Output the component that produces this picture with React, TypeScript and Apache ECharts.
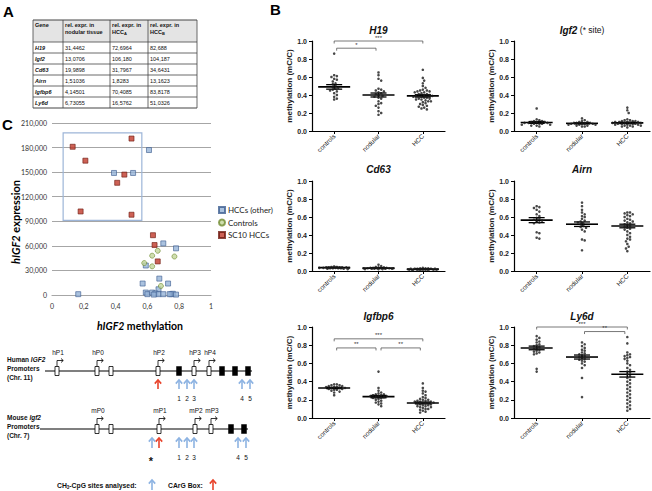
import React, { useEffect, useRef } from 'react';
import * as echarts from 'echarts';

// ---------- Panel A table ----------
const TABLE_GENES = ['H19', 'Igf2', 'Cd63', 'Airn', 'Igfbp6', 'Ly6d'];
const TABLE_NODULAR = ['31,4462', '13,0706', '19,9898', '1,51036', '4,14501', '6,73055'];
const TABLE_HCC_A = ['72,6964', '106,180', '31,7967', '1,8283', '70,4085', '16,5762'];
const TABLE_HCC_B = ['82,688', '104,187', '34,6431', '13,1623', '83,8178', '51,0326'];

// ---------- Panel C scatter ----------
const C_X_TICKS = [0, 0.2, 0.4, 0.6, 0.8, 1];
const C_HCC_OTHER: number[][] = [
  [0.39, 149000], [0.51, 149000], [0.61, 177000], [0.70, 63000], [0.78, 57000], [0.59, 36000],
  [0.675, 20000], [0.57, 14000], [0.73, 14000], [0.67, 7000], [0.165, 1000], [0.59, 3000],
  [0.60, 1000], [0.63, 3000], [0.65, 2000], [0.67, 1000], [0.70, 1000], [0.75, 1000],
  [0.76, 1500], [0.78, 500], [0.74, 1000], [0.64, 500],
];
const C_CONTROLS: number[][] = [
  [0.58, 39000], [0.63, 48000], [0.665, 54000], [0.77, 47000], [0.63, 35000], [0.685, 11000],
];
const C_SC10: number[][] = [
  [0.13, 181000], [0.21, 164000], [0.18, 102000], [0.41, 137000], [0.455, 147000],
  [0.50, 191000], [0.50, 98000], [0.635, 73000], [0.645, 61000], [0.665, 41000],
];
const C_BOX = [[0.07, 198000], [0.565, 91000]];

// ---------- Panel B ----------
const CATEGORIES = ['controls', 'nodular', 'HCC'];

const H19_CTRL = [0.86, 0.62, 0.61, 0.60, 0.58, 0.57, 0.55, 0.53, 0.52, 0.50, 0.49, 0.48, 0.47, 0.46, 0.45, 0.44, 0.42, 0.40, 0.38, 0.36, 0.35];
const H19_NOD = [0.65, 0.62, 0.58, 0.56, 0.47, 0.46, 0.45, 0.44, 0.43, 0.42, 0.41, 0.40, 0.39, 0.38, 0.37, 0.36, 0.33, 0.31, 0.30, 0.28, 0.26, 0.22, 0.20, 0.18];
const H19_HCC = [0.68, 0.59, 0.56, 0.53, 0.50, 0.48, 0.46, 0.45, 0.45, 0.44, 0.44, 0.43, 0.43, 0.42, 0.41, 0.41, 0.40, 0.40, 0.39, 0.39, 0.38, 0.38, 0.37, 0.37, 0.36, 0.36, 0.35, 0.35, 0.34, 0.33, 0.33, 0.32, 0.31, 0.30, 0.29, 0.28, 0.27, 0.26, 0.25, 0.24];
const H19_MEAN = [0.49, 0.40, 0.39];
const H19_SEM = [0.025, 0.022, 0.013];

const IGF2_CTRL = [0.25, 0.13, 0.12, 0.11, 0.11, 0.10, 0.10, 0.10, 0.09, 0.09, 0.09, 0.08, 0.08, 0.08, 0.07, 0.07, 0.06, 0.06, 0.05];
const IGF2_NOD = [0.14, 0.12, 0.11, 0.10, 0.10, 0.09, 0.09, 0.09, 0.08, 0.08, 0.08, 0.08, 0.07, 0.07, 0.07, 0.06, 0.06, 0.05, 0.05];
const IGF2_HCC = [0.26, 0.23, 0.20, 0.13, 0.12, 0.12, 0.11, 0.11, 0.11, 0.10, 0.10, 0.10, 0.10, 0.09, 0.09, 0.09, 0.09, 0.08, 0.08, 0.08, 0.08, 0.07, 0.07, 0.07, 0.06, 0.06, 0.06, 0.05, 0.05, 0.04];
const IGF2_MEAN = [0.095, 0.085, 0.09];
const IGF2_SEM = [0.01, 0.006, 0.008];

const CD63_CTRL = [0.05, 0.045, 0.045, 0.04, 0.04, 0.04, 0.04, 0.04, 0.035, 0.035, 0.035, 0.035, 0.03, 0.03, 0.03, 0.03, 0.025, 0.025, 0.02];
const CD63_NOD = [0.07, 0.055, 0.045, 0.04, 0.04, 0.035, 0.035, 0.035, 0.03, 0.03, 0.03, 0.03, 0.03, 0.03, 0.025, 0.025, 0.025, 0.025, 0.02, 0.02, 0.02];
const CD63_HCC = [0.035, 0.03, 0.03, 0.03, 0.025, 0.025, 0.025, 0.025, 0.025, 0.02, 0.02, 0.02, 0.02, 0.02, 0.02, 0.02, 0.02, 0.02, 0.015, 0.015, 0.015, 0.015, 0.015, 0.015, 0.01, 0.01, 0.01, 0.01];
const CD63_MEAN = [0.038, 0.032, 0.02];
const CD63_SEM = [0.003, 0.003, 0.002];

const AIRN_CTRL = [0.72, 0.71, 0.70, 0.68, 0.66, 0.63, 0.61, 0.59, 0.58, 0.57, 0.56, 0.55, 0.54, 0.53, 0.43, 0.42, 0.37, 0.36];
const AIRN_NOD = [0.76, 0.72, 0.68, 0.65, 0.63, 0.61, 0.60, 0.58, 0.56, 0.55, 0.54, 0.53, 0.52, 0.50, 0.49, 0.48, 0.46, 0.44, 0.35, 0.34, 0.23];
const AIRN_HCC = [0.65, 0.65, 0.64, 0.63, 0.62, 0.61, 0.60, 0.58, 0.57, 0.56, 0.55, 0.54, 0.53, 0.52, 0.51, 0.50, 0.49, 0.48, 0.47, 0.46, 0.44, 0.42, 0.40, 0.38, 0.36, 0.35, 0.33, 0.30, 0.27, 0.25, 0.22];
const AIRN_MEAN = [0.565, 0.52, 0.50];
const AIRN_SEM = [0.028, 0.025, 0.02];

const IGFBP6_CTRL = [0.37, 0.37, 0.36, 0.36, 0.35, 0.35, 0.34, 0.34, 0.34, 0.33, 0.33, 0.33, 0.32, 0.32, 0.31, 0.31, 0.30, 0.29, 0.28, 0.25];
const IGFBP6_NOD = [0.51, 0.33, 0.30, 0.28, 0.27, 0.26, 0.26, 0.25, 0.25, 0.24, 0.24, 0.24, 0.23, 0.23, 0.22, 0.22, 0.21, 0.20, 0.19, 0.18, 0.17, 0.16, 0.15, 0.13];
const IGFBP6_HCC = [0.38, 0.33, 0.30, 0.29, 0.27, 0.25, 0.23, 0.22, 0.21, 0.20, 0.20, 0.19, 0.19, 0.18, 0.18, 0.18, 0.17, 0.17, 0.17, 0.16, 0.16, 0.15, 0.15, 0.14, 0.14, 0.13, 0.13, 0.12, 0.12, 0.11, 0.10, 0.10, 0.09, 0.08, 0.07, 0.06];
const IGFBP6_MEAN = [0.33, 0.235, 0.165];
const IGFBP6_SEM = [0.007, 0.013, 0.01];

const LY6D_CTRL = [0.90, 0.88, 0.86, 0.84, 0.83, 0.81, 0.80, 0.79, 0.78, 0.77, 0.76, 0.75, 0.74, 0.73, 0.72, 0.71, 0.70, 0.54, 0.51];
const LY6D_NOD = [0.83, 0.81, 0.79, 0.77, 0.75, 0.74, 0.72, 0.71, 0.70, 0.69, 0.68, 0.67, 0.66, 0.65, 0.64, 0.63, 0.62, 0.60, 0.58, 0.55, 0.44, 0.23];
const LY6D_HCC = [0.89, 0.82, 0.72, 0.70, 0.69, 0.68, 0.67, 0.66, 0.65, 0.63, 0.60, 0.58, 0.55, 0.53, 0.51, 0.50, 0.48, 0.46, 0.44, 0.42, 0.40, 0.38, 0.36, 0.34, 0.32, 0.30, 0.28, 0.26, 0.24, 0.22, 0.20, 0.18, 0.16, 0.14, 0.12, 0.10, 0.08];
const LY6D_MEAN = [0.77, 0.67, 0.48];
const LY6D_SEM = [0.02, 0.022, 0.03];

const H19_BRACKETS = [
  { from: 0, to: 2, y: 1.0, label: '***' },
  { from: 0, to: 1, y: 0.92, label: '*' },
];
const IGFBP6_BRACKETS = [
  { from: 0, to: 2, y: 0.87, label: '***' },
  { from: 0, to: 1, y: 0.77, label: '**' },
  { from: 1, to: 2, y: 0.77, label: '**' },
];
const LY6D_BRACKETS = [
  { from: 0, to: 2, y: 1.0, label: '***' },
  { from: 1, to: 2, y: 0.95, label: '**' },
];

const B_PLOTS = [
  { title: 'H19', sub: '', groups: [H19_CTRL, H19_NOD, H19_HCC], mean: H19_MEAN, sem: H19_SEM, brackets: H19_BRACKETS },
  { title: 'Igf2', sub: ' (* site)', groups: [IGF2_CTRL, IGF2_NOD, IGF2_HCC], mean: IGF2_MEAN, sem: IGF2_SEM, brackets: [] as any[] },
  { title: 'Cd63', sub: '', groups: [CD63_CTRL, CD63_NOD, CD63_HCC], mean: CD63_MEAN, sem: CD63_SEM, brackets: [] as any[] },
  { title: 'Airn', sub: '', groups: [AIRN_CTRL, AIRN_NOD, AIRN_HCC], mean: AIRN_MEAN, sem: AIRN_SEM, brackets: [] as any[] },
  { title: 'Igfbp6', sub: '', groups: [IGFBP6_CTRL, IGFBP6_NOD, IGFBP6_HCC], mean: IGFBP6_MEAN, sem: IGFBP6_SEM, brackets: IGFBP6_BRACKETS },
  { title: 'Ly6d', sub: '', groups: [LY6D_CTRL, LY6D_NOD, LY6D_HCC], mean: LY6D_MEAN, sem: LY6D_SEM, brackets: LY6D_BRACKETS },
];

// layout (pixels)
const B_COLS = [{ left: 312, width: 133 }, { left: 514, width: 136 }];
const B_ROWS = [{ top: 41, height: 90, titleY: 30 }, { top: 181, height: 90, titleY: 169 }, { top: 327, height: 91, titleY: 316 }];

const ARIAL = 'Liberation Sans, Arial, sans-serif';
const CAL = 'Lato, Open Sans, sans-serif';
const BLUE_ARROW = '#8db3e2';
const RED_ARROW = '#e8432b';

function swarmOffsets(values: number[], pxPerUnit: number, d = 2.7, maxHalf = 15) {
  const order = values.map((_, i) => i).sort((a, b) => values[b] - values[a]);
  const placed: { x: number; y: number }[] = [];
  const out = new Array(values.length).fill(0);
  const step = d / 2;
  const nCand = Math.floor(maxHalf / step) * 2 + 1;
  for (const i of order) {
    const y = values[i] * pxPerUnit;
    let best = 0;
    let bestScore = -Infinity;
    for (let k = 0; k < nCand; k++) {
      const cand = k === 0 ? 0 : (k % 2 === 1 ? 1 : -1) * Math.ceil(k / 2) * step;
      let minD = Infinity;
      for (const p of placed) {
        const dd = Math.hypot(p.x - cand, p.y - y);
        if (dd < minD) minD = dd;
      }
      if (minD >= d) { best = cand; bestScore = Infinity; break; }
      if (minD > bestScore) { bestScore = minD; best = cand; }
    }
    placed.push({ x: best, y });
    out[i] = best;
  }
  return out;
}

function upArrow(x: number, yTop: number, yBot: number, color: string) {
  return [
    { type: 'line', shape: { x1: x, y1: yTop + 0.8, x2: x, y2: yBot }, style: { stroke: color, lineWidth: 1.6 } },
    { type: 'polyline', shape: { points: [[x - 3.2, yTop + 3.6], [x, yTop], [x + 3.2, yTop + 3.6]] }, style: { stroke: color, lineWidth: 1.6, fill: null } },
  ];
}

function promArrow(x: number, yBoxTop: number) {
  const yh = yBoxTop - 6;
  return [
    { type: 'polyline', shape: { points: [[x, yBoxTop], [x, yh], [x + 6, yh]] }, style: { stroke: '#000', lineWidth: 0.8, fill: null } },
    { type: 'polyline', shape: { points: [[x + 4, yh - 2], [x + 6.3, yh], [x + 4, yh + 2]] }, style: { stroke: '#000', lineWidth: 0.8, fill: null } },
  ];
}

function openBox(x: number, yc: number) {
  return { type: 'rect', shape: { x: x - 2, y: yc - 4.5, width: 4, height: 9 }, style: { fill: '#fff', stroke: '#000', lineWidth: 0.8 } };
}
function blackBox(x: number, yc: number) {
  return { type: 'rect', shape: { x: x - 2.5, y: yc - 4.5, width: 5, height: 9 }, style: { fill: '#000', stroke: '#000', lineWidth: 0.5 } };
}
function txt(text: string, x: number, y: number, size: number, opts: any = {}) {
  return {
    type: 'text',
    x, y,
    style: {
      text,
      fontSize: size,
      fontFamily: opts.family || ARIAL,
      fontWeight: opts.weight || 'normal',
      fontStyle: opts.style || 'normal',
      fill: opts.fill || '#111',
      align: opts.align || 'left',
      verticalAlign: opts.va || 'middle',
      rich: opts.rich,
    },
    rotation: opts.rotation || 0,
  };
}

function buildTable() {
  const cols = [33, 63, 110, 148, 197];
  const rows = [20, 42, 53, 64, 75, 86, 97, 108];
  const els: any[] = [];
  els.push({ type: 'rect', shape: { x: cols[0], y: rows[0], width: cols[4] - cols[0], height: rows[1] - rows[0] }, style: { fill: '#e4e4e4' } });
  for (const r of rows) {
    els.push({ type: 'line', shape: { x1: cols[0], y1: r, x2: cols[4], y2: r }, style: { stroke: '#444', lineWidth: r === rows[0] || r === rows[rows.length - 1] ? 1 : 0.8 } });
  }
  for (const c of cols) {
    els.push({ type: 'line', shape: { x1: c, y1: rows[0], x2: c, y2: rows[rows.length - 1] }, style: { stroke: '#444', lineWidth: 0.8 } });
  }
  const hs = 5.5;
  els.push(txt('Gene', cols[0] + 2, rows[0] + 4.5, hs, { weight: 'bold' }));
  els.push(txt('rel. expr. in', cols[1] + 2, rows[0] + 4.5, hs, { weight: 'bold' }));
  els.push(txt('nodular tissue', cols[1] + 2, rows[0] + 11.5, hs, { weight: 'bold' }));
  els.push(txt('rel. expr. in', cols[2] + 2, rows[0] + 4.5, hs, { weight: 'bold' }));
  els.push({ ...txt('HCC{s|A}', cols[2] + 2, rows[0] + 11.5, hs, { weight: 'bold', rich: { s: { fontSize: 4, fontWeight: 'bold', fontFamily: ARIAL, verticalAlign: 'bottom', padding: [4, 0, 0, 0] } } }) });
  els.push(txt('rel. expr. in', cols[3] + 2, rows[0] + 4.5, hs, { weight: 'bold' }));
  els.push({ ...txt('HCC{s|B}', cols[3] + 2, rows[0] + 11.5, hs, { weight: 'bold', rich: { s: { fontSize: 4, fontWeight: 'bold', fontFamily: ARIAL, verticalAlign: 'bottom', padding: [4, 0, 0, 0] } } }) });
  TABLE_GENES.forEach((g, i) => {
    const yc = (rows[i + 1] + rows[i + 2]) / 2;
    els.push(txt(g, cols[0] + 2, yc, hs, { weight: 'bold', style: 'italic' }));
    els.push(txt(TABLE_NODULAR[i], cols[1] + 2, yc, hs));
    els.push(txt(TABLE_HCC_A[i], cols[2] + 2, yc, hs));
    els.push(txt(TABLE_HCC_B[i], cols[3] + 2, yc, hs));
  });
  return els;
}

function buildDiagram() {
  const els: any[] = [];
  // Human
  const hy = 371;
  els.push({ ...txt('Human {i|IGF2}', 7, 359, 6.5, { weight: 'bold', rich: { i: { fontStyle: 'italic', fontWeight: 'bold', fontSize: 6.5, fontFamily: ARIAL } } }) });
  els.push(txt('Promoters', 7, 368, 6.5, { weight: 'bold' }));
  els.push(txt('(Chr. 11)', 7, 377, 6.5, { weight: 'bold' }));
  els.push({ type: 'line', shape: { x1: 45, y1: hy, x2: 252, y2: hy }, style: { stroke: '#000', lineWidth: 1.2 } });
  const hOpen = [57, 97, 111, 158, 194, 209];
  const hBlack = [179, 222, 235, 248];
  hOpen.forEach((x) => els.push(openBox(x, hy)));
  hBlack.forEach((x) => els.push(blackBox(x, hy)));
  const hProm = [[57, 'hP1'], [97, 'hP0'], [158, 'hP2'], [194, 'hP3'], [209, 'hP4']] as [number, string][];
  hProm.forEach(([x, l]) => {
    els.push(...promArrow(x, hy - 4.5));
    els.push(txt(l, x + 1, 352, 6.5, { align: 'center' }));
  });
  els.push(...upArrow(158, 380, 389, RED_ARROW));
  const hBlue = [[179, '1'], [187, '2'], [194, '3'], [242, '4'], [250, '5']] as [number, string][];
  hBlue.forEach(([x, l]) => {
    els.push(...upArrow(x, 380, 389, BLUE_ARROW));
    els.push(txt(l, x, 398, 6.5, { align: 'center' }));
  });
  // Mouse
  const my = 429;
  els.push({ ...txt('Mouse {i|Igf2}', 7, 417, 6.5, { weight: 'bold', rich: { i: { fontStyle: 'italic', fontWeight: 'bold', fontSize: 6.5, fontFamily: ARIAL } } }) });
  els.push(txt('Promoters', 7, 426, 6.5, { weight: 'bold' }));
  els.push(txt('(Chr. 7)', 7, 435, 6.5, { weight: 'bold' }));
  els.push({ type: 'line', shape: { x1: 40, y1: my, x2: 248, y2: my }, style: { stroke: '#000', lineWidth: 1.2 } });
  const mOpen = [97, 111, 159, 195, 211];
  const mBlack = [231, 244];
  mOpen.forEach((x) => els.push(openBox(x, my)));
  mBlack.forEach((x) => els.push(blackBox(x, my)));
  const mProm = [[97, 'mP0'], [159, 'mP1'], [195, 'mP2'], [211, 'mP3']] as [number, string][];
  mProm.forEach(([x, l]) => {
    els.push(...promArrow(x, my - 4.5));
    els.push(txt(l, x + 1, 410, 6.5, { align: 'center' }));
  });
  els.push(...upArrow(152, 438, 448, BLUE_ARROW));
  els.push(...upArrow(159, 438, 448, RED_ARROW));
  const mBlue = [[179, '1'], [187, '2'], [194, '3'], [238, '4'], [246, '5']] as [number, string][];
  mBlue.forEach(([x, l]) => {
    els.push(...upArrow(x, 438, 448, BLUE_ARROW));
    els.push(txt(l, x, 457, 6.5, { align: 'center' }));
  });
  els.push(txt('*', 151, 461, 11, { align: 'center', weight: 'bold' }));
  // key
  els.push({ ...txt('CH{s|3}-CpG sites analysed:', 57, 485, 6.8, { weight: 'bold', rich: { s: { fontSize: 4.5, fontWeight: 'bold', fontFamily: ARIAL, verticalAlign: 'bottom', padding: [4, 0, 0, 0] } } }) });
  els.push(...upArrow(152, 480, 490, BLUE_ARROW));
  els.push(txt('CArG Box:', 168, 485, 6.8, { weight: 'bold' }));
  els.push(...upArrow(213, 480, 490, RED_ARROW));
  return els;
}

function buildOption() {
  const grids: any[] = [{ left: 52, top: 123, width: 159, height: 172 }];
  const xAxes: any[] = [{
    type: 'value', gridIndex: 0, min: 0, max: 1, interval: 0.2,
    axisLine: { show: true, lineStyle: { color: '#a6a6a6', width: 1.2 } },
    axisTick: { show: false }, splitLine: { show: false },
    axisLabel: { formatter: (v: number) => String(Math.round(v * 10) / 10).replace('.', ','), fontSize: 7, fontFamily: CAL, color: '#333', margin: 7 },
  }];
  const yAxes: any[] = [{
    type: 'value', gridIndex: 0, min: 0, max: 210000, interval: 30000,
    axisLine: { show: false }, axisTick: { show: false },
    splitLine: { show: true, lineStyle: { color: '#a6a6a6', width: 1.2 } },
    axisLabel: { fontSize: 7, fontFamily: CAL, color: '#333', margin: 5 },
  }];
  const series: any[] = [
    {
      name: 'HCCs (other)', type: 'scatter', xAxisIndex: 0, yAxisIndex: 0, symbol: 'rect', symbolSize: 5,
      itemStyle: { color: '#95b3d7', borderColor: '#3f5f91', borderWidth: 0.8 },
      data: C_HCC_OTHER,
      markArea: {
        silent: true,
        itemStyle: { color: 'rgba(0,0,0,0)', borderColor: '#9db5d8', borderWidth: 1.2 },
        data: [[{ coord: C_BOX[0] }, { coord: C_BOX[1] }]],
      },
    },
    {
      name: 'Controls', type: 'scatter', xAxisIndex: 0, yAxisIndex: 0, symbol: 'circle', symbolSize: 5,
      itemStyle: { color: '#c3d69b', borderColor: '#6f8a2f', borderWidth: 0.8 },
      data: C_CONTROLS,
    },
    {
      name: 'SC10 HCCs', type: 'scatter', xAxisIndex: 0, yAxisIndex: 0, symbol: 'rect', symbolSize: 5,
      itemStyle: { color: '#c0392b', borderColor: '#6e1a10', borderWidth: 0.8 },
      data: C_SC10,
    },
  ];

  const graphic: any[] = [];
  graphic.push(txt('A', 3, 11, 15, { weight: 'bold', fill: '#000' }));
  graphic.push(txt('B', 270, 9, 15, { weight: 'bold', fill: '#000' }));
  graphic.push(txt('C', 2, 124, 15, { weight: 'bold', fill: '#000' }));
  graphic.push(...buildTable());
  graphic.push({
    ...txt('{i|hIGF2} expression', 15, 222, 11, { weight: 'bold', family: CAL, align: 'center', rotation: Math.PI / 2, fill: '#000', rich: { i: { fontStyle: 'italic', fontWeight: 'bold', fontSize: 11, fontFamily: CAL } } }),
  });
  graphic.push({
    ...txt('{i|hIGF2} methylation', 140, 326, 10.5, { weight: 'bold', family: CAL, align: 'center', fill: '#000', rich: { i: { fontStyle: 'italic', fontWeight: 'bold', fontSize: 10.5, fontFamily: CAL } } }),
  });
  graphic.push(...buildDiagram());

  B_PLOTS.forEach((p, k) => {
    const col = B_COLS[k % 2];
    const row = B_ROWS[Math.floor(k / 2)];
    const gi = k + 1;
    grids.push({ left: col.left, top: row.top, width: col.width, height: row.height });
    xAxes.push({
      type: 'category', gridIndex: gi, data: CATEGORIES,
      axisLine: { show: true, lineStyle: { color: '#000', width: 1.2 } },
      axisTick: { show: true, alignWithLabel: true, length: 3, lineStyle: { color: '#000', width: 1 } },
      axisLabel: { rotate: 45, interval: 0, fontSize: 6.5, fontFamily: ARIAL, color: '#222', margin: 4 },
    });
    yAxes.push({
      type: 'value', gridIndex: gi, min: 0, max: 1, interval: 0.2,
      axisLine: { show: true, lineStyle: { color: '#000', width: 1.2 } },
      axisTick: { show: true, length: 3, lineStyle: { color: '#000', width: 1 } },
      splitLine: { show: false },
      axisLabel: { formatter: (v: number) => v.toFixed(1), fontSize: 7, fontWeight: 'bold', fontFamily: ARIAL, color: '#222', margin: 5 },
      name: 'methylation (mC/C)', nameLocation: 'middle', nameGap: 19,
      nameTextStyle: { fontSize: 8, fontWeight: 'bold', fontFamily: ARIAL, color: '#222' },
    });
    const titleX = col.left + col.width / 2;
    graphic.push({
      ...txt(p.sub ? `{b|${p.title}}{n|${p.sub}}` : `{b|${p.title}}`, titleX, row.titleY, 10, {
        align: 'center', fill: '#111',
        rich: {
          b: { fontSize: 10, fontWeight: 'bold', fontStyle: 'italic', fontFamily: ARIAL, fill: '#111' },
          n: { fontSize: 8.5, fontFamily: ARIAL, fill: '#111' },
        },
      }),
    });
    const pts: any[] = [];
    p.groups.forEach((vals, ci) => {
      const offs = swarmOffsets(vals, row.height);
      vals.forEach((v, j) => pts.push({ value: [ci, v], symbolOffset: [offs[j], 0] }));
    });
    series.push({
      type: 'scatter', xAxisIndex: gi, yAxisIndex: gi, symbol: 'circle', symbolSize: 2.6,
      itemStyle: { color: '#1a1a1a' }, data: pts, silent: true,
    });
    series.push({
      type: 'custom', xAxisIndex: gi, yAxisIndex: gi, silent: true, clip: false,
      encode: { x: 0, y: 1 },
      data: p.mean.map((m, i) => [i, m, p.sem[i]]),
      renderItem: (params: any, api: any) => {
        const c = api.coord([api.value(0), api.value(1)]);
        const t = api.coord([api.value(0), api.value(1) + api.value(2)]);
        const b = api.coord([api.value(0), api.value(1) - api.value(2)]);
        const st = { stroke: '#000', lineWidth: 1.3 };
        return {
          type: 'group',
          children: [
            { type: 'line', shape: { x1: c[0] - 16, y1: c[1], x2: c[0] + 16, y2: c[1] }, style: { stroke: '#000', lineWidth: 1.6 } },
            { type: 'line', shape: { x1: c[0], y1: t[1], x2: c[0], y2: b[1] }, style: st },
            { type: 'line', shape: { x1: c[0] - 8, y1: t[1], x2: c[0] + 8, y2: t[1] }, style: st },
            { type: 'line', shape: { x1: c[0] - 8, y1: b[1], x2: c[0] + 8, y2: b[1] }, style: st },
          ],
        };
      },
    });
    if (p.brackets.length) {
      const br = p.brackets;
      series.push({
        type: 'custom', xAxisIndex: gi, yAxisIndex: gi, silent: true, clip: false,
        encode: { x: 0, y: 1 },
        data: br.map((b: any) => [b.from, b.y, b.to]),
        renderItem: (params: any, api: any) => {
          const b = br[params.dataIndex];
          const p1 = api.coord([api.value(0), api.value(1)]);
          const p2 = api.coord([api.value(2), api.value(1)]);
          const inset = b.to - b.from === 1 ? 2.5 : 0;
          const x1 = p1[0] + inset;
          const x2 = p2[0] - inset;
          const y = p1[1];
          return {
            type: 'group',
            children: [
              { type: 'polyline', shape: { points: [[x1, y + 2.5], [x1, y], [x2, y], [x2, y + 2.5]] }, style: { stroke: '#555', lineWidth: 0.8, fill: null } },
              { type: 'text', x: (x1 + x2) / 2, y: y - 0.5, style: { text: b.label, fontSize: 6, fontFamily: ARIAL, fill: '#333', align: 'center', verticalAlign: 'bottom' } },
            ],
          };
        },
      });
    }
  });

  return {
    animation: false,
    backgroundColor: '#fff',
    grid: grids,
    xAxis: xAxes,
    yAxis: yAxes,
    legend: {
      show: true, orient: 'vertical', left: 213, top: 201, itemGap: 4.5, itemWidth: 6, itemHeight: 6,
      selectedMode: false,
      textStyle: { fontSize: 8, fontFamily: CAL, color: '#222', padding: [0, 0, 0, -2] },
      data: [
        { name: 'HCCs (other)', icon: 'rect' },
        { name: 'Controls', icon: 'circle' },
        { name: 'SC10 HCCs', icon: 'rect' },
      ],
    },
    series,
    graphic,
  };
}

export default function App() {
  const ref = useRef<HTMLDivElement>(null);
  useEffect(() => {
    document.body.style.margin = '0';
    if (!ref.current) return;
    const chart = echarts.init(ref.current, undefined, { renderer: 'svg' });
    chart.setOption(buildOption() as any);
    return () => chart.dispose();
  }, []);
  return <div ref={ref} style={{ width: 652, height: 491, position: 'absolute', left: 0, top: 0 }} />;
}
